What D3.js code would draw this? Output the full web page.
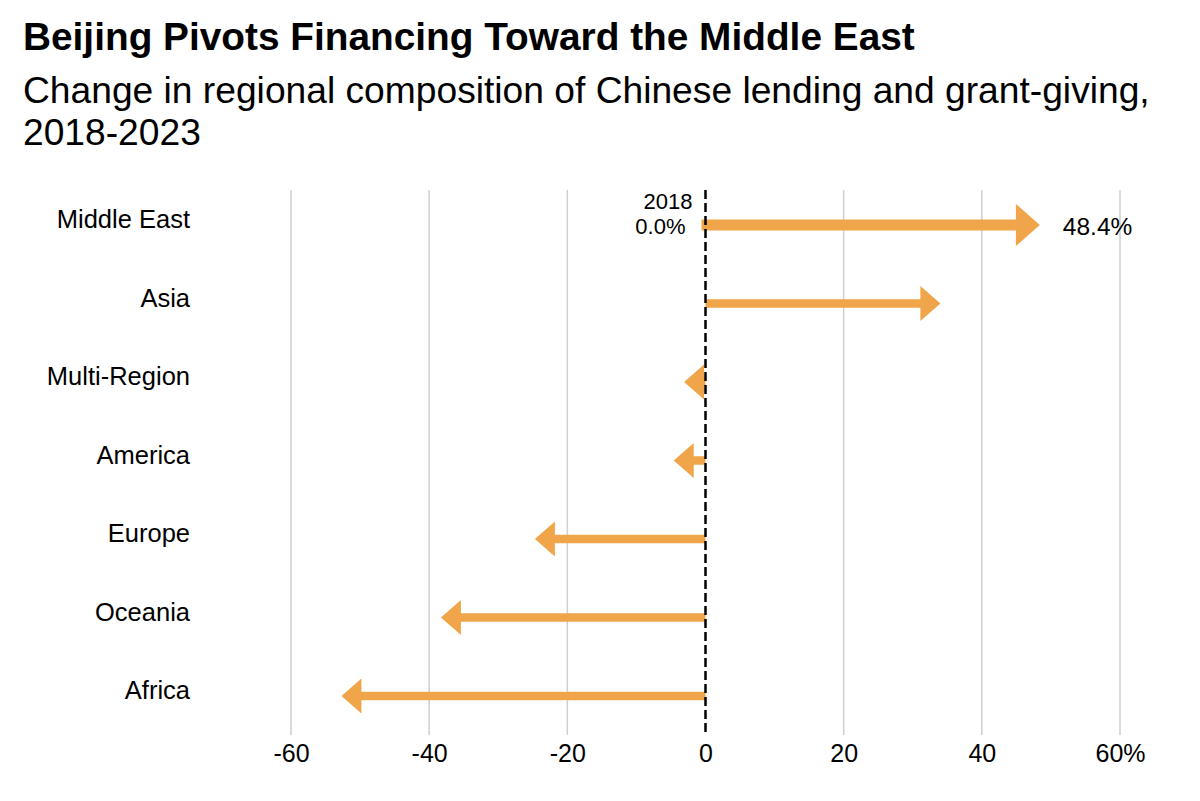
<!DOCTYPE html>
<html>
<head>
<meta charset="utf-8">
<script src="https://cdn.jsdelivr.net/npm/d3@7"></script>
<style>
  body { margin: 0; background: #fff; }
  text { font-family: "Liberation Sans", Arial, sans-serif; fill: #000; }
</style>
</head>
<body>
<div id="chart"></div>
<script>
// regions top to bottom, change in share (percentage points) 2018 -> 2023
const regions = ['Middle East', 'Asia', 'Multi-Region', 'America', 'Europe', 'Oceania', 'Africa'];
const changes = [48.4, 34.0, -3.1, -4.6, -24.7, -38.3, -52.7];
const tickValues = [-60, -40, -20, 0, 20, 40, 60];

const width = 1200, height = 801;
const svg = d3.select('#chart').append('svg')
    .attr('width', width)
    .attr('height', height);

const x = d3.scaleLinear().domain([-60, 60]).range([291, 1120]);
const y = d3.scalePoint().domain(regions).range([225, 696]);
const gridTop = 190, gridBottom = 735;
const orange = '#f0a54a';

// title block
svg.append('text')
    .attr('x', 23).attr('y', 50)
    .style('font-size', '38.8px')
    .style('font-weight', 'bold')
    .text('Beijing Pivots Financing Toward the Middle East');

svg.append('text')
    .attr('x', 23).attr('y', 103)
    .style('font-size', '37.2px')
    .text('Change in regional composition of Chinese lending and grant-giving,');

svg.append('text')
    .attr('x', 23).attr('y', 145)
    .style('font-size', '37.2px')
    .text('2018-2023');

// gridlines
svg.append('g')
    .selectAll('line')
    .data(tickValues.filter(d => d !== 0))
    .join('line')
    .attr('x1', d => x(d)).attr('x2', d => x(d))
    .attr('y1', gridTop).attr('y2', gridBottom)
    .style('stroke', '#cfcfcf')
    .style('stroke-width', 1.5);

// x axis labels
const xAxis = d3.axisBottom(x)
    .tickValues(tickValues)
    .tickSize(0)
    .tickPadding(0)
    .tickFormat(d => d === 60 ? '60%' : d);

const axisG = svg.append('g')
    .attr('transform', `translate(0, 762)`)
    .call(xAxis);
axisG.select('.domain').remove();
axisG.selectAll('text')
    .attr('dy', 0)
    .attr('y', 0)
    .style('font-size', '25px')
    .style('font-family', '"Liberation Sans", Arial, sans-serif')
    .attr('fill', '#000');

// arrows
function arrowPath(v, yc, shaft, headLen, headH, start) {
    const x0 = x(0) - start, tip = x(v);
    const dir = v >= 0 ? 1 : -1;
    const base = tip - dir * headLen;
    const h = shaft / 2, H = headH / 2;
    // head only when the arrow is shorter than its head
    if (Math.abs(tip - x(0)) <= headLen) {
        return `M${x(0)},${yc - H}L${tip},${yc}L${x(0)},${yc + H}Z`;
    }
    return `M${x0},${yc - h}L${base},${yc - h}L${base},${yc - H}L${tip},${yc}` +
        `L${base},${yc + H}L${base},${yc + h}L${x0},${yc + h}Z`;
}

svg.append('g')
    .selectAll('path')
    .data(regions)
    .join('path')
    .attr('d', (d, i) => i === 0
        ? arrowPath(changes[i], y(d), 11, 24, 42, 4)
        : arrowPath(changes[i], y(d), 8.5, 20, 35, 0))
    .style('fill', orange);

// region labels
svg.append('g')
    .selectAll('text')
    .data(regions)
    .join('text')
    .attr('x', 190)
    .attr('y', d => y(d) + 3)
    .attr('text-anchor', 'end')
    .style('font-size', '25.5px')
    .text(d => d);

// zero line
svg.append('line')
    .attr('x1', x(0)).attr('x2', x(0))
    .attr('y1', gridTop).attr('y2', gridBottom)
    .style('stroke', '#000')
    .style('stroke-width', 2.5)
    .style('stroke-dasharray', '9,4');

// annotations
svg.append('text')
    .attr('x', x(0) - 13).attr('y', y(regions[0]) - 16)
    .attr('text-anchor', 'end')
    .style('font-size', '22px')
    .text('2018');

svg.append('text')
    .attr('x', x(0) - 20).attr('y', y(regions[0]) + 9)
    .attr('text-anchor', 'end')
    .style('font-size', '22px')
    .text('0.0%');

svg.append('text')
    .attr('x', x(changes[0]) + 23).attr('y', y(regions[0]) + 10)
    .style('font-size', '24.5px')
    .text(changes[0].toFixed(1) + '%');
</script>
</body>
</html>
